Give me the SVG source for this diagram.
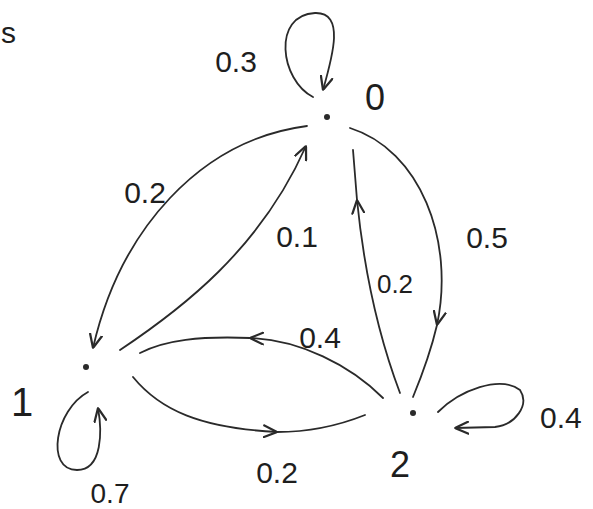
<svg xmlns="http://www.w3.org/2000/svg" width="593" height="509" viewBox="0 0 593 509">
<defs>
<style>
.e{fill:none;stroke:#2a2a2a;stroke-width:1.8;stroke-linecap:round}
.n{fill:#2a2a2a}
text{font-family:"Liberation Sans","DejaVu Sans",sans-serif;fill:#1e1e1e;font-size:30px}
.m{text-anchor:middle}
</style>
<marker id="v" viewBox="0 0 10 10" refX="10" refY="5" markerUnits="userSpaceOnUse" markerWidth="14" markerHeight="14" orient="auto">
<path d="M0,0.5 L10,5 L0,9.5" fill="none" stroke="#2a2a2a" stroke-width="1.6"/>
</marker>
</defs>
<rect width="593" height="509" fill="#ffffff"/>
<text x="1" y="43">s</text>
<g id="connectors">
<path class="e" d="M313,97 C280,80 272,15 315,13 C345,12 333,55 323,90" marker-end="url(#v)"/>
<path class="e" d="M307,126 C200,140 120,230 93,348" marker-end="url(#v)"/>
<path class="e" d="M120,350 C180,310 260,250 306,146" marker-end="url(#v)"/>
<path class="e" d="M350,128 C420,150 455,240 437,325" marker-end="url(#v)"/>
<path class="e" d="M437,325 C430,355 420,380 413,397"/>
<path class="e" d="M400,393 C380,340 365,280 357,200" marker-end="url(#v)"/>
<path class="e" d="M357,200 L353,150"/>
<path class="e" d="M383,398 C350,365 300,340 250,338" marker-end="url(#v)"/>
<path class="e" d="M250,338 C200,336 165,340 140,353"/>
<path class="e" d="M133,377 C160,410 200,428 277,432" marker-end="url(#v)"/>
<path class="e" d="M277,432 C310,432 340,425 365,415"/>
<path class="e" d="M88,392 C55,410 45,470 77,470 C103,470 102,430 98,408" marker-end="url(#v)"/>
<path class="e" d="M438,412 C460,390 500,375 520,390 C530,405 515,425 495,427 L455,428" marker-end="url(#v)"/>
</g>
<g id="node0">
<circle class="n" cx="327" cy="117" r="3"/>
<text class="m" x="375" y="110" style="font-size:36px">0</text>
<text class="m" x="236" y="72">0.3</text>
</g>
<g id="node1">
<circle class="n" cx="86" cy="367" r="3"/>
<text class="m" x="22" y="416" style="font-size:40px">1</text>
<text class="m" x="110" y="503" style="font-size:28px">0.7</text>
</g>
<g id="node2">
<circle class="n" cx="413" cy="413" r="3"/>
<text class="m" x="400" y="477" style="font-size:36px">2</text>
<text x="540" y="428">0.4</text>
</g>
<g id="labels">
<text class="m" x="145" y="203">0.2</text>
<text class="m" x="297" y="247">0.1</text>
<text class="m" x="487" y="248">0.5</text>
<text class="m" x="395" y="293" style="font-size:26px">0.2</text>
<text class="m" x="320" y="348">0.4</text>
<text class="m" x="277" y="483">0.2</text>
</g>
</svg>
